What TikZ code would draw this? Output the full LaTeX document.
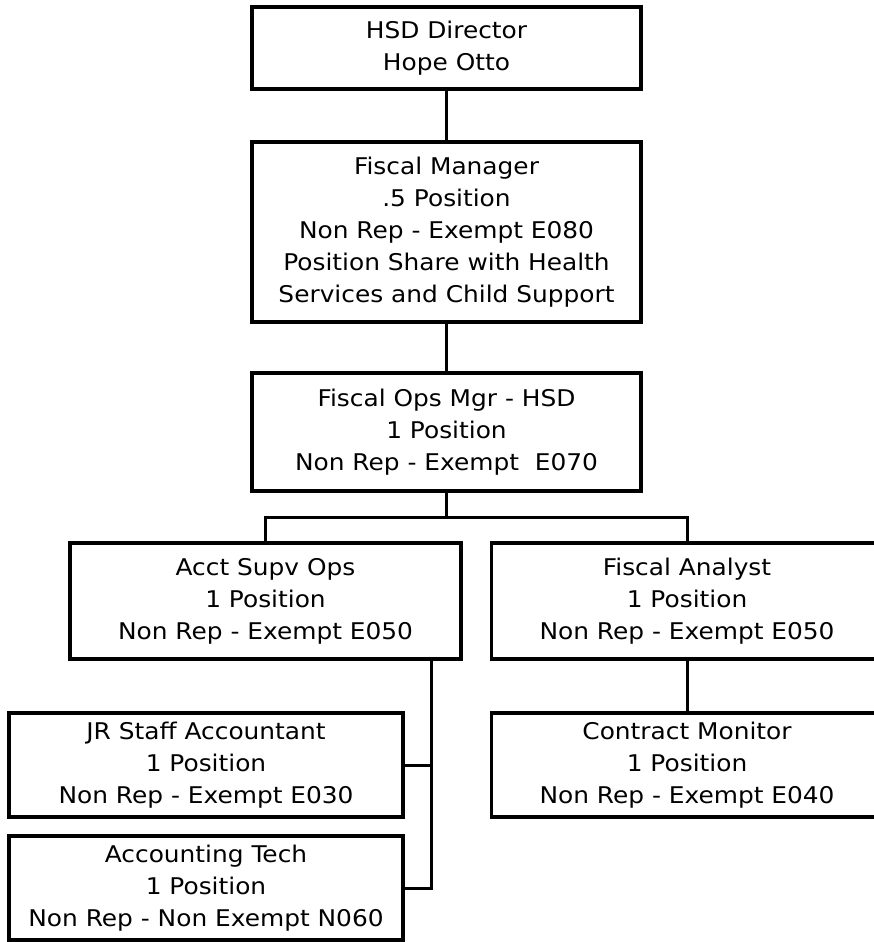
\documentclass[tikz,border=0pt]{standalone}
\usepackage{fontspec}
\setmainfont{DejaVu Sans}[FakeStretch=1.08]
\begin{document}
\begin{tikzpicture}[x=1pt,y=-1pt,
  posbox/.style={draw=black, line width=3.3pt, fill=white, align=center,
    inner sep=0pt, font=\fontsize{23}{32}\selectfont},
  link/.style={draw=black, line width=3pt}]
  \useasboundingbox (0,0) rectangle (874,942);
  \clip (0,0) rectangle (874,942);

  % positions
  \node[posbox, minimum width=389pt, minimum height=82pt] (dir) at (446.5,48)
    {HSD Director\\Hope Otto};
  \node[posbox, minimum width=389pt, minimum height=180pt] (fm) at (446.5,232)
    {Fiscal Manager\\.5 Position\\Non Rep - Exempt E080\\Position Share with Health\\Services and Child Support};
  \node[posbox, minimum width=389pt, minimum height=118pt] (ops) at (446.5,432)
    {Fiscal Ops Mgr - HSD\\1 Position\\Non Rep - Exempt\ \ E070};
  \node[posbox, minimum width=391pt, minimum height=116pt] (acct) at (265.5,601)
    {Acct Supv Ops\\1 Position\\Non Rep - Exempt E050};
  \node[posbox, minimum width=391pt, minimum height=116pt] (fa) at (687,601)
    {Fiscal Analyst\\1 Position\\Non Rep - Exempt E050};
  \node[posbox, minimum width=394pt, minimum height=104pt] (jr) at (206,765)
    {JR Staff Accountant\\1 Position\\Non Rep - Exempt E030};
  \node[posbox, minimum width=394pt, minimum height=104pt] (tech) at (206,888)
    {Accounting Tech\\1 Position\\Non Rep - Non Exempt N060};
  \node[posbox, minimum width=391pt, minimum height=104pt] (cm) at (687,765)
    {Contract Monitor\\1 Position\\Non Rep - Exempt E040};

  % reporting lines
  \coordinate (bus) at (0,517);
  \coordinate (trunk) at (431,0);
  \draw[link] (dir.south) -- (fm.north);
  \draw[link] (fm.south) -- (ops.north);
  \draw[link] (ops.south) -- (ops.south |- bus);
  \draw[link] (acct.north) |- (fa.north |- bus) -- (fa.north);
  \draw[link] (acct.south -| trunk) |- (tech.east);
  \draw[link] (jr.east) -- (jr.east -| trunk);
  \draw[link] (fa.south) -- (cm.north);
\end{tikzpicture}
\end{document}
